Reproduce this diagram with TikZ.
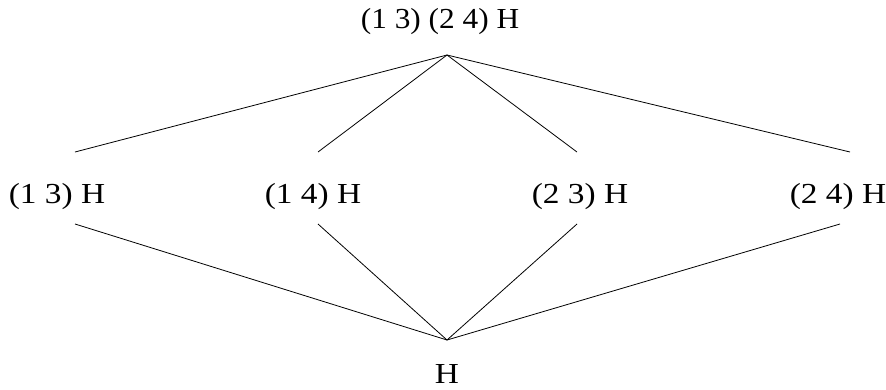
\documentclass[tikz,border=0pt]{standalone}
\usepackage{fontspec}
\setmainfont{Liberation Serif}
\newcommand{\wide}[1]{\scalebox{1.15}[1]{#1}}
\begin{document}
\begin{tikzpicture}[x=1pt,y=-1pt,
  lbl/.style={font=\fontsize{29}{33}\selectfont, inner sep=0pt, anchor=base},
  edge/.style={draw=black, line width=0.8pt}]
\useasboundingbox (0,0) rectangle (886,389);
\node[lbl] (top) at (440,28) {\scalebox{1.08}[1]{(1 3) (2 4) H}};
\node[lbl] (m1) at (57,203) {\wide{(1 3) H}};
\node[lbl] (m2) at (313,203) {\wide{(1 4) H}};
\node[lbl] (m3) at (580,203) {\wide{(2 3) H}};
\node[lbl] (m4) at (838,203) {\wide{(2 4) H}};
\node[lbl] (bot) at (447,383) {\wide{H}};
% connector ends
\coordinate (ta) at (447,55);
\coordinate (m1t) at (75,152);
\coordinate (m2t) at (318,152);
\coordinate (m3t) at (577,152);
\coordinate (m4t) at (850,152);
\coordinate (m1b) at (75,224);
\coordinate (m2b) at (318,224);
\coordinate (m3b) at (577,224);
\coordinate (m4b) at (840,224);
\coordinate (ba) at (447,340);
\draw[edge] (ta) -- (m1t);
\draw[edge] (ta) -- (m2t);
\draw[edge] (ta) -- (m3t);
\draw[edge] (ta) -- (m4t);
\draw[edge] (m1b) -- (ba);
\draw[edge] (m2b) -- (ba);
\draw[edge] (m3b) -- (ba);
\draw[edge] (m4b) -- (ba);
\end{tikzpicture}
\end{document}
